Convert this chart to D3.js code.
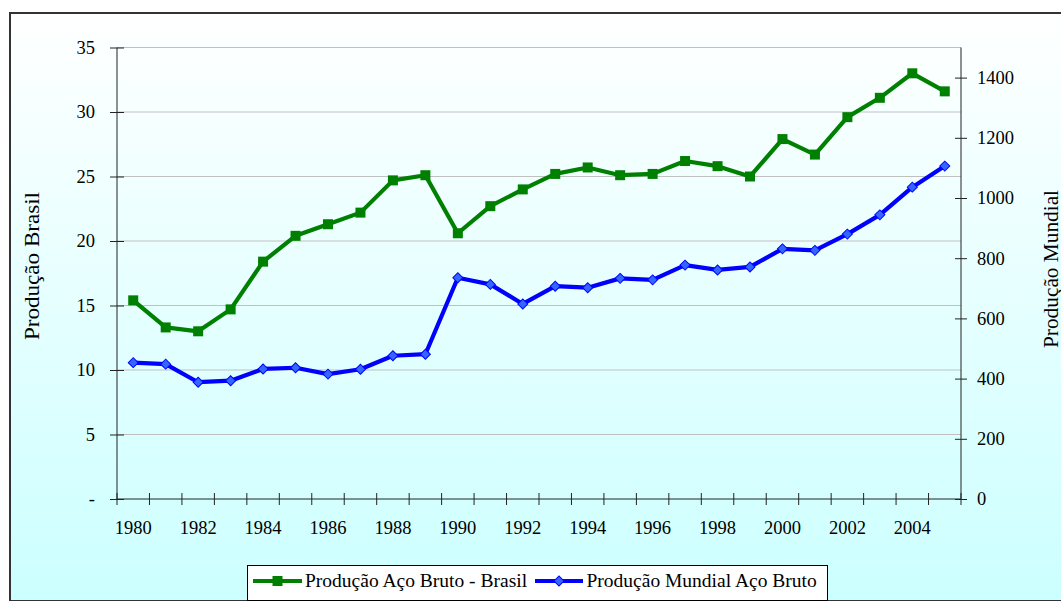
<!DOCTYPE html>
<html>
<head>
<meta charset="utf-8">
<script src="https://cdn.jsdelivr.net/npm/d3@7"></script>
<style>
  html, body { margin: 0; padding: 0; background: #ffffff; }
  svg { display: block; }
  svg text { font-family: "Liberation Serif", "Times New Roman", serif !important; fill: #000; }
</style>
</head>
<body>
<svg id="chart" width="1061" height="601"></svg>
<script>
// ---- data ----
const years = d3.range(1980, 2006);
const brasil = [15.4, 13.3, 13.0, 14.7, 18.4, 20.4, 21.3, 22.2, 24.7, 25.1,
                20.6, 22.7, 24.0, 25.2, 25.7, 25.1, 25.2, 26.2, 25.8, 25.0,
                27.9, 26.7, 29.6, 31.1, 33.0, 31.6];
const mundial = [453, 448, 388, 393, 432, 436, 415, 431, 476, 481,
                 735, 713, 648, 707, 702, 733, 728, 777, 761, 771,
                 831, 826, 880, 944, 1036, 1106];
const leftTicks = [0, 5, 10, 15, 20, 25, 30, 35];
const rightTicks = [0, 200, 400, 600, 800, 1000, 1200, 1400];
const xLabelYears = years.filter(y => y % 2 === 0);
const seriesNames = ["Produção Aço Bruto - Brasil", "Produção Mundial Aço Bruto"];
const axisTitles = ["Produção Brasil", "Produção Mundial"];

// ---- layout ----
const FONT = "'Liberation Serif', 'Times New Roman', serif";
const svg = d3.select("#chart");
const L = 117, R = 961, T = 47.5, B = 499;

const defs = svg.append("defs");
const grad = defs.append("linearGradient").attr("id", "bg")
  .attr("x1", 0).attr("y1", 0).attr("x2", 0).attr("y2", 1);
grad.append("stop").attr("offset", "0%").attr("stop-color", "#ffffff");
grad.append("stop").attr("offset", "100%").attr("stop-color", "#ccffff");

// chart frame with gradient
svg.append("rect").attr("x", 10).attr("y", 13).attr("width", 1080).attr("height", 588)
  .attr("fill", "url(#bg)").attr("stroke", "#333").attr("stroke-width", 2);

const x = d3.scaleBand().domain(years).range([L, R]).paddingInner(0).paddingOuter(0);
const yL = d3.scaleLinear().domain([0, 35]).range([B, T]);
const yR = d3.scaleLinear().domain([0, 1500]).range([B, T]);
const cx = d => x(d) + x.bandwidth() / 2;

// gridlines
svg.append("g").selectAll("line").data(leftTicks.filter(d => d > 0)).join("line")
  .attr("x1", L).attr("x2", R).attr("y1", d => yL(d)).attr("y2", d => yL(d))
  .attr("stroke", "#c0c0c0").attr("stroke-width", 1);

function styleAxis(g) {
  g.attr("font-family", FONT).attr("font-size", 18.5);
  g.selectAll("text").attr("fill", "#000").attr("font-family", FONT).style("font-family", FONT);
  g.selectAll("path,line").attr("stroke", "#222");
}

// left axis
const gL = svg.append("g").attr("transform", `translate(${L},0)`)
  .call(d3.axisLeft(yL).tickValues(leftTicks).tickSize(7).tickPadding(15)
    .tickFormat(d => d === 0 ? "-" : String(d)));
gL.selectAll(".tick line").attr("x1", 7);
gL.select(".domain").attr("d", `M0,${T}V${B}`);
styleAxis(gL);

// right axis
const gR = svg.append("g").attr("transform", `translate(${R},0)`)
  .call(d3.axisRight(yR).tickValues(rightTicks).tickSize(6).tickPadding(10).tickFormat(d3.format("d")));
gR.selectAll(".tick line").attr("x1", -6);
gR.select(".domain").attr("d", `M0,${T}V${B}`);
styleAxis(gR);

// bottom axis
const gB = svg.append("g").attr("transform", `translate(0,${B})`)
  .call(d3.axisBottom(x).tickSize(0).tickValues(xLabelYears).tickFormat(d3.format("d")));
gB.select(".domain").attr("d", `M${L},0H${R}`);
gB.selectAll("text").attr("dy", 0).attr("y", 35);
gB.append("g").selectAll("line").data(years.map(y => x(y)).concat([R])).join("line")
  .attr("x1", d => d).attr("x2", d => d).attr("y1", -6).attr("y2", 6);
styleAxis(gB);

// axis titles
svg.append("text").attr("transform", `translate(39,266) rotate(-90)`)
  .attr("text-anchor", "middle").attr("font-size", 20)
  .attr("textLength", 148).attr("lengthAdjust", "spacingAndGlyphs").text(axisTitles[0]);
svg.append("text").attr("transform", `translate(1058,269) rotate(-90)`)
  .attr("text-anchor", "middle").attr("font-size", 20)
  .attr("textLength", 158).attr("lengthAdjust", "spacingAndGlyphs").text(axisTitles[1]);

// series
const lineL = d3.line().x((d, i) => cx(years[i])).y(d => yL(d));
const lineR = d3.line().x((d, i) => cx(years[i])).y(d => yR(d));

svg.append("path").datum(brasil).attr("d", lineL)
  .attr("fill", "none").attr("stroke", "#008000").attr("stroke-width", 4.2).attr("stroke-linejoin", "round");
svg.append("g").selectAll("rect").data(brasil).join("rect")
  .attr("x", (d, i) => cx(years[i]) - 5).attr("y", d => yL(d) - 5)
  .attr("width", 10).attr("height", 10).attr("fill", "#008000");

svg.append("path").datum(mundial).attr("d", lineR)
  .attr("fill", "none").attr("stroke", "#0000ff").attr("stroke-width", 4.2).attr("stroke-linejoin", "round");
svg.append("g").selectAll("path").data(mundial).join("path")
  .attr("d", d3.symbol().type(d3.symbolSquare).size(50))
  .attr("transform", (d, i) => `translate(${cx(years[i])},${yR(d)}) rotate(45)`)
  .attr("fill", "#3366ff").attr("stroke", "#0000ff").attr("stroke-width", 1);

// legend
const lg = svg.append("g");
lg.append("rect").attr("x", 247.5).attr("y", 565.5).attr("width", 580).attr("height", 35)
  .attr("fill", "#ffffff").attr("stroke", "#000").attr("stroke-width", 1);
lg.append("line").attr("x1", 253).attr("x2", 302).attr("y1", 581).attr("y2", 581)
  .attr("stroke", "#008000").attr("stroke-width", 4.2);
lg.append("rect").attr("x", 272.5).attr("y", 576).attr("width", 10).attr("height", 10).attr("fill", "#008000");
lg.append("text").attr("x", 305).attr("y", 587).attr("font-size", 19.5).text(seriesNames[0]);
lg.append("line").attr("x1", 535).attr("x2", 583).attr("y1", 581).attr("y2", 581)
  .attr("stroke", "#0000ff").attr("stroke-width", 4.2);
lg.append("path").attr("d", d3.symbol().type(d3.symbolSquare).size(50))
  .attr("transform", "translate(559,581) rotate(45)")
  .attr("fill", "#3366ff").attr("stroke", "#0000ff").attr("stroke-width", 1);
lg.append("text").attr("x", 586.5).attr("y", 587).attr("font-size", 19.5).text(seriesNames[1]);
</script>
</body>
</html>
